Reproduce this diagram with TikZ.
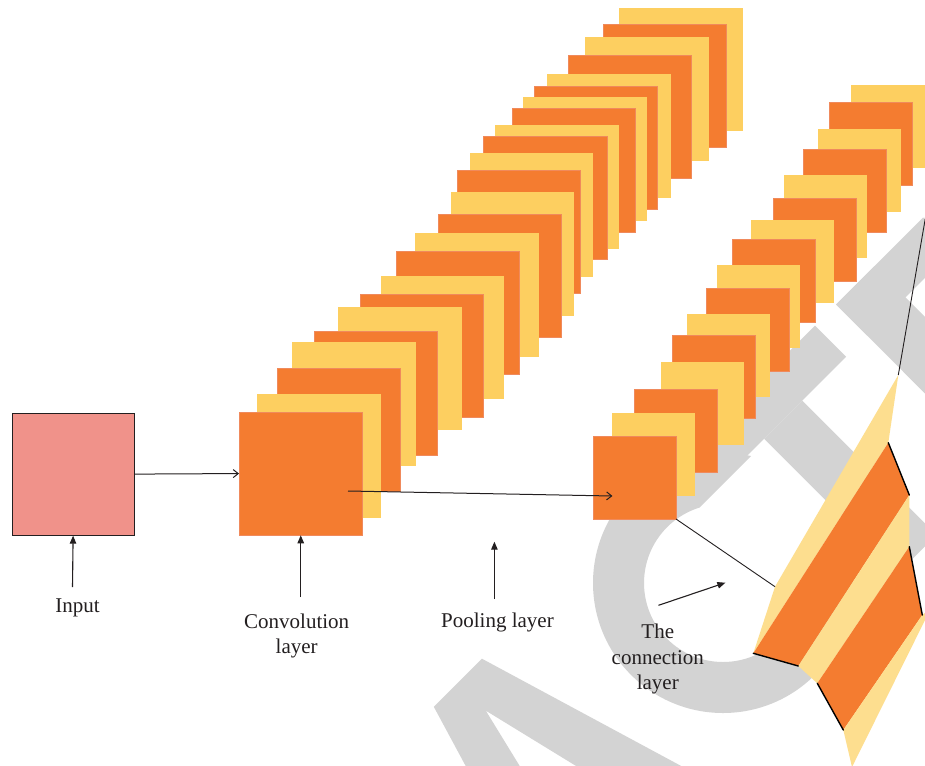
\documentclass[tikz,border=0pt]{standalone}
\usepackage{fontspec}
\setmainfont{Liberation Serif}
\usetikzlibrary{arrows.meta}
\definecolor{org}{RGB}{244,124,48}
\definecolor{orgedge}{RGB}{240,138,92}
\definecolor{yel}{RGB}{253,207,96}
\definecolor{ribyel}{RGB}{253,222,143}
\definecolor{inpink}{RGB}{240,146,138}
\definecolor{wm}{RGB}{211,211,211}
\definecolor{ink}{RGB}{35,31,32}
\begin{document}
\begin{tikzpicture}[x=1pt,y=-1pt,
  sqbase/.style={inner sep=0pt,outer sep=0pt,anchor=north west},
  osq/.style={sqbase,fill=org,draw=orgedge,line width=0.4pt,minimum width=123.5pt,minimum height=123.5pt},
  ysq/.style={sqbase,fill=yel,minimum width=123.5pt,minimum height=123.5pt},
  posq/.style={sqbase,fill=org,draw=orgedge,line width=0.4pt,minimum width=83pt,minimum height=83pt},
  pysq/.style={sqbase,fill=yel,minimum width=83pt,minimum height=83pt},
  lbl/.style={font=\fontsize{21}{25.5}\selectfont,text=ink,inner sep=0pt,align=center},
  labarrow/.style={draw=ink,line width=1.1pt,-{Triangle[length=8pt,width=6.5pt]}},
  conn/.style={draw=ink,line width=1pt,-{Straight Barb[length=5pt,width=8pt]}},
  thinline/.style={draw=ink,line width=0.9pt},
  ribedge/.style={draw=black,line width=1.4pt,line cap=round},
]
\useasboundingbox (0,0) rectangle (925,765);
\clip (0,0) rectangle (925,765);
\fill[white] (0,0) rectangle (925,765);

% ---------- watermark ----------
\begin{scope}[shift={(723,583)},rotate=45]
  \begin{scope}
    \clip (-140,-140) -- (-140,140) -- (140,140) -- (140,70) -- (0,70) -- (0,-70) -- (140,-70) -- (140,-140) -- cycle;
    \fill[wm,even odd rule] (0,0) circle[radius=130] (0,0) circle[radius=79];
  \end{scope}
  % T
  \fill[wm] (69,-117) rectangle (247,-73);
  \fill[wm] (131,-73) rectangle (185,117);
  % E
  \fill[wm] (277,-117) rectangle (331,117);
  \fill[wm] (277,-117) rectangle (400,-73);
  \fill[wm] (277,-22) rectangle (390,22);
  \fill[wm] (277,73) rectangle (410,117);
  % A
  \fill[wm,even odd rule] (-292,-117) -- (-224,-117) -- (-153.8,117) -- (-214.3,117) -- (-222,85) -- (-294,85) -- (-301.7,117) -- (-362.2,117) -- cycle
     (-258,-77.5) -- (-228.6,45) -- (-287.4,45) -- cycle;
\end{scope}

% ---------- convolution stack ----------
\foreach \px/\py/\st [count=\i] in {619/7.6/ysq,603/24/osq,585/37/ysq,568/55/osq,547/74/ysq,534/86/osq,523/97.5/ysq,512/108.5/osq,495/125/ysq,483.5/136/osq,469.7/153/ysq,457/170/osq,450.8/192/ysq,438/213.8/osq,415/233/ysq,396/251/osq,380.8/275.8/ysq,360/293.7/osq,338/306.8/ysq,314/331.3/osq,292/342/ysq,277/368/osq,257/394/ysq,239/411.8/osq}
  \node[\st] (c\i) at (\px,\py) {};

% ---------- pooling stack ----------
\foreach \px/\py/\st [count=\i] in {851/85/pysq,829/102/posq,818/129/pysq,803/149/posq,784/175/pysq,773/198/posq,751/220/pysq,732/239/posq,717/265/pysq,706/288/posq,687/314/pysq,672/335/posq,661/362/pysq,634/389/posq,612/413/pysq,593/436/posq}
  \node[\st] (p\i) at (\px,\py) {};

% ---------- input ----------
\node[draw=ink,line width=1.2pt,fill=inpink,minimum width=122pt,minimum height=122pt,inner sep=0pt,anchor=north west] (input) at (11.5,412.5) {};

% ---------- fully connected ribbon ----------
\coordinate (rT) at (898.3,375);
\coordinate (rA) at (888.3,442.7);
\coordinate (rB) at (909.3,495);
\coordinate (rC) at (909.3,546.7);
\coordinate (rD) at (922.3,615);
\coordinate (rE) at (931,608);
\coordinate (rL) at (775,586.7);
\coordinate (r1) at (753.3,653.3);
\coordinate (r2) at (798.3,666);
\coordinate (r3) at (817.3,683.3);
\coordinate (r4) at (843.3,730);
\coordinate (r5) at (852,767);
\fill[ribyel] (rT) -- (rA) -- (r1) -- (rL) -- cycle;
\fill[org] (rA) -- (rB) -- (r2) -- (r1) -- cycle;
\fill[ribyel] (rB) -- (rC) -- (r3) -- (r2) -- cycle;
\fill[org] (rC) -- (rD) -- (r4) -- (r3) -- cycle;
\fill[ribyel] (r4) -- (rD) -- (rE) -- (r5) -- cycle;
\draw[ribedge] (rA) -- (rB);
\draw[ribedge] (r1) -- (r2);
\draw[ribedge] (rC) -- (rD);
\draw[ribedge] (r3) -- (r4);

% ---------- connectors ----------
\coordinate (convout) at (348,491);
\coordinate (poolin) at (612.4,496);
\draw[conn] (input.east) -- (c24.west);
\draw[conn] (convout) -- (poolin);
\draw[thinline] (p16.south east) -- (rL);
\draw[thinline] (p1.south east) -- (rT);

% ---------- labels ----------
\node[lbl,anchor=base] (inlabel) at (77.5,612.3) {Input};
\node[lbl,anchor=north] (convlabel) at (296.7,613.4) {Convolution\\layer};
\node[lbl,anchor=base] (poollabel) at (497.5,627.3) {Pooling layer};
\node[lbl,anchor=north] (fclabel) at (657.8,624) {The\\connection\\layer};

\coordinate (intail) at (72.5,587);
\coordinate (convtail) at (300.75,597);
\coordinate (pooltail) at (494.4,599);
\coordinate (poolhead) at (494.4,541.7);
\coordinate (fctail) at (658.5,605.3);
\coordinate (fchead) at (725.4,582.7);
\draw[labarrow] (intail) -- (input.south);
\draw[labarrow] (convtail) -- (c24.south);
\draw[labarrow] (pooltail) -- (poolhead);
\draw[labarrow] (fctail) -- (fchead);
\end{tikzpicture}
\end{document}
